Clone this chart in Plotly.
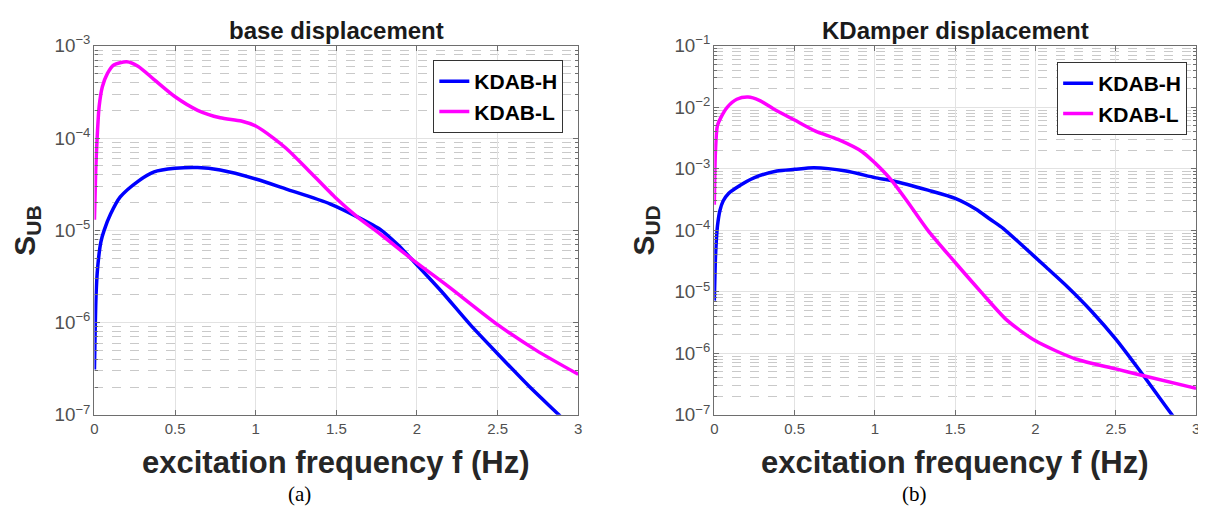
import plotly.graph_objects as go

# ---------------- data ----------------
# (a) base displacement
f_base_H = [0, 0.01, 0.02, 0.04, 0.06, 0.10, 0.16, 0.27, 0.37, 0.5, 0.64, 0.78, 1.0, 1.19, 1.46, 1.63, 1.78, 1.88, 1.98, 2.15, 2.33, 2.5, 2.7, 2.88, 2.92]
s_base_H = [3.1e-7, 2.0e-6, 4.0e-6, 7.5e-6, 1.0e-5, 1.5e-5, 2.3e-5, 3.4e-5, 4.3e-5, 4.7e-5, 4.8e-5, 4.5e-5, 3.6e-5, 2.8e-5, 1.94e-5, 1.4e-5, 1.0e-5, 7.0e-6, 4.6e-6, 2.2e-6, 9.5e-7, 4.6e-7, 2.0e-7, 1.0e-7, 8.5e-8]

f_base_L = [0, 0.008, 0.019, 0.029, 0.049, 0.08, 0.12, 0.2, 0.27, 0.37, 0.5, 0.64, 0.78, 0.91, 1.0, 1.11, 1.19, 1.32, 1.49, 1.63, 1.78, 1.98, 2.19, 2.5, 2.74, 3.0]
s_base_L = [1.3e-5, 4.6e-5, 1.2e-4, 2.2e-4, 3.6e-4, 5.0e-4, 6.2e-4, 6.7e-4, 6.0e-4, 4.3e-4, 2.8e-4, 2.0e-4, 1.66e-4, 1.53e-4, 1.35e-4, 1.0e-4, 7.7e-5, 4.6e-5, 2.3e-5, 1.4e-5, 8.9e-6, 4.7e-6, 2.5e-6, 9.5e-7, 5.0e-7, 2.75e-7]

# (b) KDamper displacement
f_kd_H = [0, 0.006, 0.012, 0.02, 0.035, 0.055, 0.09, 0.13, 0.25, 0.39, 0.5, 0.62, 0.82, 1.0, 1.11, 1.33, 1.5, 1.63, 1.72, 1.8, 1.92, 2.06, 2.2, 2.35, 2.5, 2.65, 2.85, 2.88]
s_kd_H = [7.2e-6, 3.0e-5, 6.5e-5, 1.2e-4, 2.1e-4, 3.0e-4, 4.0e-4, 4.8e-4, 7.2e-4, 9.2e-4, 9.8e-4, 1.04e-3, 9.2e-4, 7.2e-4, 6.4e-4, 4.5e-4, 3.3e-4, 2.2e-4, 1.5e-4, 1.07e-4, 5.6e-5, 2.6e-5, 1.2e-5, 4.8e-6, 1.7e-6, 5.2e-7, 1.0e-7, 8.0e-8]

f_kd_L = [0, 0.007, 0.019, 0.043, 0.08, 0.14, 0.21, 0.28, 0.37, 0.5, 0.63, 0.77, 0.92, 1.0, 1.06, 1.11, 1.2, 1.33, 1.5, 1.66, 1.82, 2.0, 2.25, 2.5, 2.66, 3.0]
s_kd_L = [2.6e-4, 1.9e-3, 5.0e-3, 7.0e-3, 1.0e-2, 1.35e-2, 1.47e-2, 1.3e-2, 9.4e-3, 6.2e-3, 4.1e-3, 3.0e-3, 1.9e-3, 1.25e-3, 8.7e-4, 6.2e-4, 3.0e-4, 1.0e-4, 3.0e-5, 1.0e-5, 3.5e-6, 1.6e-6, 8.1e-7, 5.6e-7, 4.4e-7, 2.7e-7]

series_names = ["KDAB-H", "KDAB-L"]
panel_titles = ["base displacement", "KDamper displacement"]
x_title = "excitation frequency f (Hz)"
y_titles = ["S<sub>UB</sub>", "S<sub>UD</sub>"]
panel_labels = ["(a)", "(b)"]

BLUE = "#0000ff"
MAGENTA = "#ff00ff"
W, H = 1206, 518
OFF = 8  # page body margin: figure is drawn 8 px right/down of the window corner

def px(x):
    return (x - OFF) / W

def py(y):
    return (H - (y - OFF)) / H

fig = go.Figure()
line_common = dict(width=3.5, shape="spline", smoothing=0.7)
fig.add_trace(go.Scatter(x=f_base_H, y=s_base_H, name=series_names[0], mode="lines",
                         line=dict(color=BLUE, **line_common), xaxis="x", yaxis="y", legend="legend"))
fig.add_trace(go.Scatter(x=f_base_L, y=s_base_L, name=series_names[1], mode="lines",
                         line=dict(color=MAGENTA, **line_common), xaxis="x", yaxis="y", legend="legend"))
fig.add_trace(go.Scatter(x=f_kd_H, y=s_kd_H, name=series_names[0], mode="lines",
                         line=dict(color=BLUE, **line_common), xaxis="x2", yaxis="y2", legend="legend2"))
fig.add_trace(go.Scatter(x=f_kd_L, y=s_kd_L, name=series_names[1], mode="lines",
                         line=dict(color=MAGENTA, **line_common), xaxis="x2", yaxis="y2", legend="legend2"))

AX = "#6e6e6e"
GRID = "#e2e2e2"
MINOR = "#c9c9c9"
TICKFONT = dict(family="Liberation Sans, Arial", size=15, color="#505050")

def xaxis(domain, anchor):
    return dict(domain=domain, anchor=anchor, range=[0, 3], dtick=0.5, tick0=0,
                showline=True, mirror="ticks", linecolor=AX, linewidth=1.2,
                ticks="inside", ticklen=5, tickcolor=AX,
                showgrid=True, gridcolor=GRID, gridwidth=1, zeroline=False,
                tickfont=TICKFONT, fixedrange=True)

def yaxis(domain, anchor, rng):
    return dict(domain=domain, anchor=anchor, type="log", range=rng, dtick=1,
                exponentformat="power", showexponent="all",
                showline=True, mirror="ticks", linecolor=AX, linewidth=1.2,
                ticks="inside", ticklen=5, tickcolor=AX,
                showgrid=True, gridcolor=GRID, gridwidth=1, zeroline=False,
                minor=dict(dtick="D1", showgrid=True, griddash="dash", gridcolor=MINOR,
                           gridwidth=1, ticks="inside", ticklen=3, tickcolor=AX),
                tickfont=TICKFONT, fixedrange=True)

ydom = [py(421), py(34)]
xdom1 = [px(91), px(578)]
xdom2 = [px(715), px(1200)]

legend_common = dict(bgcolor="white", bordercolor="#333333", borderwidth=1,
                     font=dict(family="Liberation Sans, Arial", size=21, color="black", weight="bold"),
                     xanchor="right", yanchor="top", tracegroupgap=0)

fig.update_layout(
    width=W, height=H,
    margin=dict(l=0, r=0, t=0, b=0),
    paper_bgcolor="white", plot_bgcolor="white",
    showlegend=True,
    xaxis=xaxis(xdom1, "y"),
    yaxis=yaxis(ydom, "x", [-7, -3]),
    xaxis2=xaxis(xdom2, "y2"),
    yaxis2=yaxis(ydom, "x2", [-7, -1]),
    legend=dict(x=px(563), y=py(49), **legend_common),
    legend2=dict(x=px(1191), y=py(51), **legend_common),
)

centers = [(91 + 578) / 2, (715 + 1200) / 2]
ytitle_x = [23, 646]
label_x = [297, 917]
annots = []
for i in range(2):
    annots.append(dict(text="<b>" + panel_titles[i] + "</b>", x=px(centers[i]), y=py(18),
                       xref="paper", yref="paper", showarrow=False, xanchor="center", yanchor="middle",
                       font=dict(family="Liberation Sans, Arial", size=24, color="#1a1a1a")))
    annots.append(dict(text="<b>" + x_title + "</b>", x=px(centers[i]), y=py(471),
                       xref="paper", yref="paper", showarrow=False, xanchor="center", yanchor="middle",
                       font=dict(family="Liberation Sans, Arial", size=31, color="#262626")))
    annots.append(dict(text="<b>" + y_titles[i] + "</b>", x=px(ytitle_x[i]), y=py(228),
                       xref="paper", yref="paper", showarrow=False, xanchor="center", yanchor="middle",
                       textangle=-90,
                       font=dict(family="Liberation Sans, Arial", size=30, color="#262626")))
    annots.append(dict(text=panel_labels[i], x=px(label_x[i]), y=py(504),
                       xref="paper", yref="paper", showarrow=False, xanchor="center", yanchor="middle",
                       font=dict(family="Liberation Serif, Times New Roman", size=21, color="black")))
fig.update_layout(annotations=annots)

fig.write_html("out.html")
